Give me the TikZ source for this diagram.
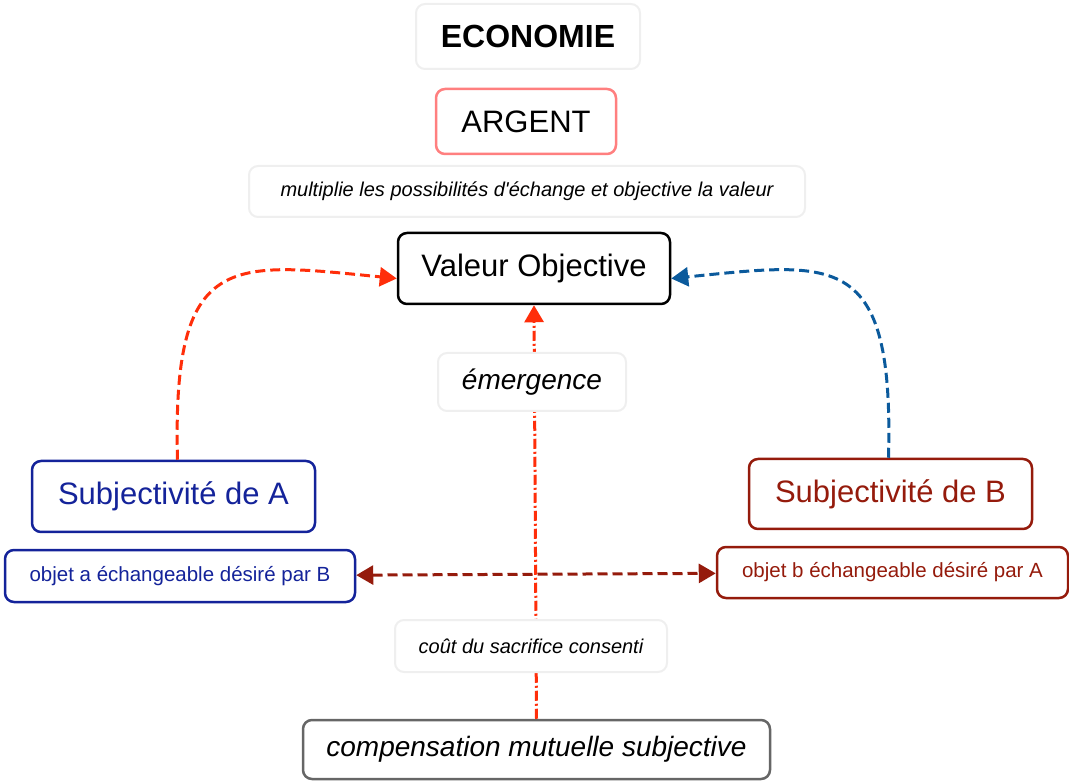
\documentclass[tikz,border=0pt]{standalone}
\usepackage{fontspec}
\setmainfont{Liberation Sans}
\usepackage{tikz}
\usetikzlibrary{arrows.meta, positioning}
\definecolor{ecoBlue}{HTML}{14239A}
\definecolor{ecoBrick}{HTML}{951B0C}
\definecolor{ecoRed}{HTML}{FF2E0A}
\definecolor{ecoSea}{HTML}{0B5A9C}
\definecolor{ecoSalmon}{HTML}{FF7F7F}
\definecolor{ecoGrey}{HTML}{666666}
\definecolor{ecoPale}{HTML}{EFEFEF}

\begin{document}
\begin{tikzpicture}[x=1pt, y=-1pt,
  box/.style={draw, fill=white, rounded corners=9pt, line width=2.5pt, inner sep=0pt,
              align=center, font=\fontsize{31}{36}\selectfont},
  small/.style={box, font=\fontsize{20.5}{24}\selectfont},
  note/.style={box, draw=ecoPale, line width=2pt, font=\fontsize{20}{24}\selectfont\itshape},
  bignote/.style={note, font=\fontsize{28}{32}\selectfont\itshape},
  tip/.tip={Triangle[length=17pt,width=19pt]},
  arr/.style={-tip, line width=3pt},
  dash line/.style={dash pattern=on 10pt off 5pt},
  dashdot line/.style={dash pattern=on 10pt off 3pt on 2pt off 3pt},
]
\useasboundingbox (0,0) rectangle (1069,783);

\node[note, draw=ecoPale, minimum width=224pt, minimum height=65pt,
      font=\fontsize{32}{38}\selectfont\bfseries] (eco) at (528,36.5) {ECONOMIE};
\node[box, draw=ecoSalmon, minimum width=180pt, minimum height=65pt] (argent) at (526,121.5) {ARGENT};
\node[note, minimum width=556pt, minimum height=51pt] (multi) at (527,191.5)
  {multiplie les possibilités d\textquotesingle échange et objective la valeur};
\node[box, minimum width=272pt, minimum height=71pt] (valeur) at (534,268.5) {Valeur Objective};

\node[box, draw=ecoBlue, text=ecoBlue, minimum width=283pt, minimum height=71pt] (subjA) at (173.5,496.5) {Subjectivité de A};
\node[small, draw=ecoBlue, text=ecoBlue, minimum width=350pt, minimum height=52pt] (objA) at (180,576) {objet a échangeable désiré par B};
\node[box, draw=ecoBrick, text=ecoBrick, minimum width=283pt, minimum height=70pt] (subjB) at (890.5,494) {Subjectivité de B};
\node[small, draw=ecoBrick, text=ecoBrick, minimum width=351pt, minimum height=51pt] (objB) at (892.5,572.5) {objet b échangeable désiré par A};

\node[bignote, draw=ecoGrey, line width=2.5pt, minimum width=467pt, minimum height=59pt] (comp) at (536.5,749.5)
  {compensation mutuelle subjective};

% connecteurs
\draw[arr, ecoRed, dash line] ([xshift=4pt]subjA.north) .. controls (172,250) and (230,262) .. ([yshift=-10pt]valeur.west);
\draw[arr, ecoSea, dash line] ([xshift=-2pt]subjB.north) .. controls (894,250) and (836,262) .. ([yshift=-10pt]valeur.east);
\draw[arr, tip-tip, ecoBrick, dash line] (objA) -- (objB);
\draw[arr, ecoRed, dashdot line] (comp.north) -- (valeur.south);

\node[bignote, minimum width=188pt, minimum height=58pt] (emerg) at (532,382) {émergence};
\node[note, minimum width=272pt, minimum height=52pt] (cout) at (531,646) {coût du sacrifice consenti};
\end{tikzpicture}
\end{document}
